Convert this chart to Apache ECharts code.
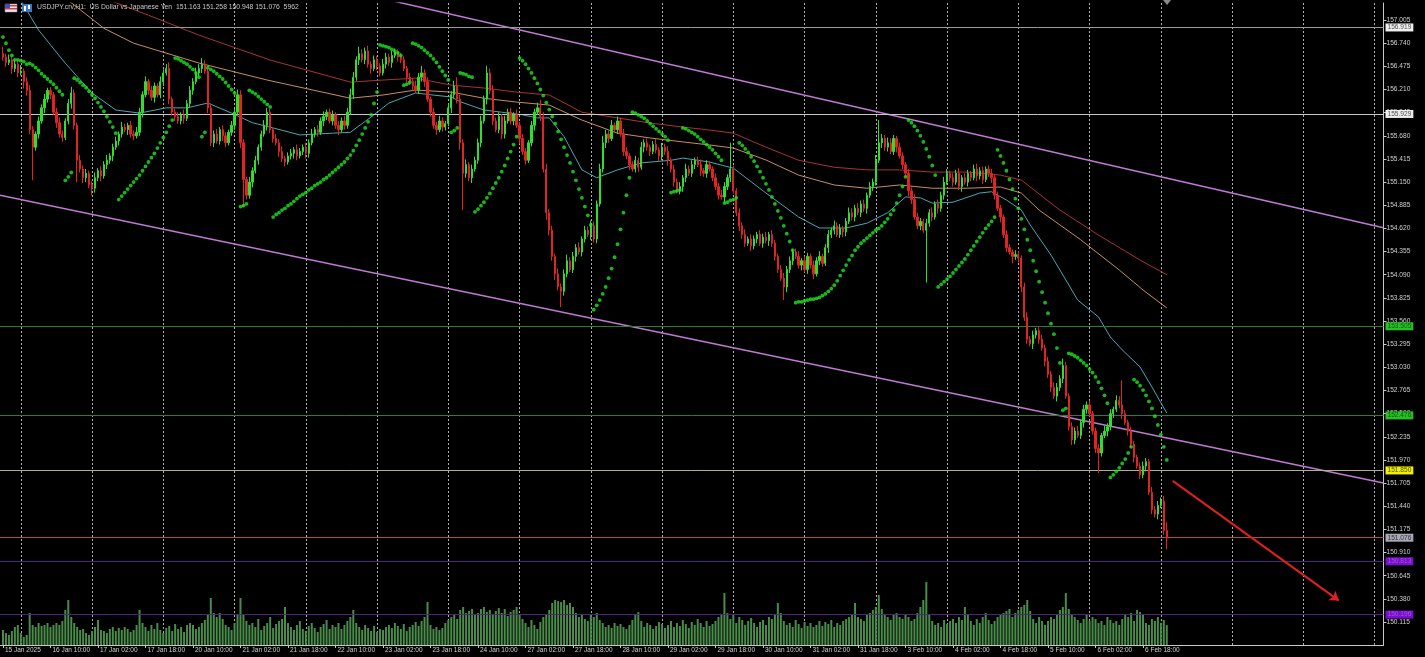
<!DOCTYPE html>
<html><head><meta charset="utf-8">
<script src="https://cdn.jsdelivr.net/npm/echarts@6/dist/echarts.min.js"></script>
<style>html,body{margin:0;padding:0;background:#000;}#c{width:1425px;height:657px;}</style>
</head><body><div id="c"></div>
<script>
// ---------------- DATA ----------------
const header = 'USDJPY.crv,H1:  US Dollar vs Japanese Yen  151.163 151.258 150.948 151.076  5962';
const timeLabels = ['15 Jan 2025','16 Jan 10:00','17 Jan 02:00','17 Jan 18:00','20 Jan 10:00','21 Jan 02:00','21 Jan 18:00','22 Jan 10:00','23 Jan 02:00','23 Jan 18:00','24 Jan 10:00','27 Jan 02:00','27 Jan 18:00','28 Jan 10:00','29 Jan 02:00','29 Jan 18:00','30 Jan 10:00','31 Jan 02:00','31 Jan 18:00','3 Feb 10:00','4 Feb 02:00','4 Feb 18:00','5 Feb 10:00','6 Feb 02:00','6 Feb 18:00'];
const labelEvery = 16;      // bars between time labels
const gridEvery = 24;       // bars between dashed grid lines
const gridFirst = 6;
const totalSlots = 466;     // bar slots incl. right shift space
const firstOpen = 156.62;
const closes = [156.58,156.52,156.55,156.45,156.50,156.40,156.42,156.30,156.20,155.75,155.55,155.70,155.85,156.00,156.10,156.20,156.15,155.95,155.83,155.70,155.66,155.85,156.05,156.17,155.80,155.40,155.30,155.20,155.25,155.12,155.08,155.20,155.28,155.22,155.35,155.40,155.45,155.55,155.62,155.70,155.78,155.75,155.80,155.70,155.68,155.72,155.95,156.15,156.30,156.20,156.12,156.25,156.15,156.30,156.40,156.45,156.10,155.95,155.90,155.85,155.92,155.88,156.05,156.20,156.30,156.40,156.45,156.50,156.42,156.00,155.60,155.70,155.62,155.75,155.68,155.60,155.72,155.80,155.95,156.15,155.60,155.18,155.00,155.15,155.28,155.40,155.55,155.70,155.80,155.95,155.75,155.65,155.60,155.50,155.42,155.38,155.45,155.48,155.52,155.45,155.50,155.55,155.48,155.60,155.70,155.75,155.72,155.85,155.90,155.95,155.85,155.92,155.80,155.75,155.85,155.80,155.95,156.15,156.35,156.55,156.62,156.55,156.65,156.50,156.45,156.55,156.48,156.40,156.50,156.58,156.52,156.60,156.64,156.58,156.55,156.45,156.35,156.30,156.25,156.20,156.35,156.40,156.30,156.10,155.95,155.80,155.75,155.85,155.78,155.82,156.00,156.15,156.25,156.10,155.60,155.25,155.35,155.20,155.30,155.40,155.60,155.85,156.10,156.40,156.20,155.85,155.75,155.90,155.70,155.85,155.95,155.85,155.92,155.80,155.65,155.50,155.40,155.60,155.80,155.95,156.00,155.90,155.30,154.80,154.60,154.30,154.10,153.95,153.90,154.10,154.25,154.15,154.30,154.40,154.35,154.50,154.60,154.55,154.65,154.50,154.90,155.30,155.60,155.70,155.65,155.80,155.75,155.85,155.70,155.50,155.45,155.35,155.30,155.40,155.32,155.55,155.60,155.55,155.50,155.58,155.52,155.45,155.55,155.50,155.40,155.30,155.15,155.05,155.10,155.20,155.30,155.25,155.35,155.40,155.35,155.28,155.25,155.35,155.30,155.20,155.10,155.00,154.98,155.10,155.20,155.30,155.05,154.80,154.65,154.55,154.45,154.50,154.42,154.50,154.55,154.45,154.52,154.48,154.55,154.45,154.30,154.15,154.05,153.95,154.15,154.25,154.35,154.30,154.20,154.25,154.15,154.30,154.20,154.10,154.25,154.30,154.22,154.40,154.55,154.60,154.65,154.55,154.62,154.58,154.70,154.80,154.75,154.85,154.80,154.90,154.85,155.00,155.10,155.15,155.40,155.60,155.65,155.55,155.60,155.50,155.65,155.55,155.45,155.35,155.25,155.05,154.95,154.75,154.65,154.70,154.60,154.68,154.80,154.75,154.90,154.85,155.00,155.15,155.25,155.20,155.15,155.25,155.10,155.20,155.15,155.25,155.20,155.30,155.22,155.28,155.18,155.30,155.25,155.20,155.00,154.85,154.75,154.55,154.40,154.35,154.30,154.32,154.28,153.95,153.60,153.35,153.30,153.40,153.45,153.35,153.25,153.10,152.95,152.80,152.70,152.80,152.90,153.05,152.70,152.35,152.20,152.30,152.25,152.40,152.55,152.60,152.50,152.30,152.10,152.05,152.25,152.30,152.35,152.50,152.55,152.65,152.60,152.50,152.40,152.30,152.15,152.00,151.90,151.80,151.90,151.95,151.60,151.40,151.35,151.45,151.50,151.163,151.076];
// wick lengths in pips (0.01) above max(open,close) / below min(open,close)
const wickUp = [8,4,6,3,5,4,7,3,5,6,4,3,5,4,6,3, 4,3,5,6,4,3,5,7,4,3,6,4,5,3,4,6, 3,5,4,6,3,4,5,3,6,4,3,5,4,6,5,4, 6,3,5,4,3,6,4,5,7,3,4,5,3,6,4,5, 4,6,5,7,4,3,5,4,6,3,5,4,3,5,4,6, 5,4,3,6,4,5,3,4,6,5,4,3,5,4,6,3, 4,5,3,6,4,3,5,4,6,3,5,4,6,3,4,5, 3,5,4,6,5,7,6,4,8,5,4,6,3,5,4,3, 6,5,4,5,4,3,5,4,3,5,4,6,5,8,4,5, 3,5,4,6,4,3,5,4,6,10,5,4,6,3,5,4, 5,6,4,8,5,6,4,5,3,6,4,5,3,6,4,5, 4,3,5,4,6,9,5,6,4,5,3,6,4,5,7,4, 5,4,6,3,5,4,6,5,4,6,8,5,4,6,3,5, 4,6,5,3,4,5,3,6,4,5,3,4,6,3,5,4, 6,3,5,4,5,3,6,4,5,3,4,6,3,5,4,3, 5,4,6,5,4,30,4,3,5,4,6,3,5,4,3,5, 4,6,3,5,4,3,5,6,4,5,3,4,6,3,5,4, 3,5,4,6,3,4,5,3,6,4,5,3,4,6,5,4, 6,4,5,3,5,4,6,26,5,4,6,5,4,3,5,4, 3,5,4,6,5,4,3,5,4,6,3,5,4,6,5,3, 5,4,6,3,5,4,3,5,6,4,5,3,4,5,3,4, 4,3,5,4,3,5,4,3,5,6,4,5,3,4,5,4, 5,4,6,5,4,8,4,3,5,4,6,3,5,4,5,3, 4,5,3,6,4,5,3,6,5,28,4,3,5,4,3,4, 5,4,3,6,4,5,4,6,9.5];
const wickDn = [4,5,3,6,4,5,3,8,6,5,38,4,5,3,6,4, 5,3,6,4,5,3,4,6,5,25,4,6,5,4,8,5, 4,6,3,5,4,6,3,5,4,3,6,4,5,3,4,6, 3,5,4,6,3,4,5,3,6,4,5,3,4,6,3,5, 5,3,4,5,3,6,4,5,3,4,6,5,3,4,5,3, 6,31,5,4,6,3,5,4,3,6,4,5,3,6,4,5, 3,4,6,5,3,4,6,5,3,4,5,3,6,4,3,5, 4,6,3,5,4,3,5,4,6,3,5,4,6,3,5,4, 3,5,4,6,3,5,4,3,6,4,5,3,4,5,6,3, 5,4,6,3,5,4,3,6,4,5,8,42,5,4,6,3, 4,5,3,6,4,5,3,4,6,5,3,4,5,3,6,4, 5,3,4,6,3,5,4,8,6,5,7,4,18,5,4,3, 4,6,3,5,4,3,6,4,5,3,4,6,5,3,4,5, 3,5,4,6,3,4,5,3,6,4,5,3,4,6,5,4, 6,4,5,3,4,6,5,3,4,5,3,6,4,5,3,4, 4,5,3,6,4,5,3,4,6,5,4,3,6,4,5,3, 5,3,6,4,5,4,3,15,6,4,5,3,4,6,3,5, 4,6,3,5,4,3,6,4,5,3,4,6,5,3,4,5, 3,5,4,6,3,5,4,3,6,4,5,3,4,6,3,5, 4,6,5,3,4,5,3,60,4,5,3,6,4,5,3,4, 5,3,4,6,3,5,4,3,6,4,5,3,4,6,5,3, 6,4,5,3,8,4,5,6,4,5,3,6,4,5,3,6, 4,5,3,6,4,5,3,4,6,5,3,4,6,5,3,4, 5,23,4,3,6,4,5,3,4,6,3,5,4,6,3,5, 4,6,3,5,4,6,3,5,12.8];
const sar = [156.81,156.74,156.66,156.60,156.55,156.55,156.54,156.53,156.50, 156.51,156.49,156.46,156.43,156.39,156.36,156.33,156.30,156.27,156.23,156.19,156.15, 155.17,155.21,155.26, 156.34,156.32,156.29,156.26,156.23,156.19,156.15,156.11,156.06,156.01,155.96,155.90,155.84,155.78,155.71, 154.95,154.99,155.03,155.07,155.11,155.15,155.19,155.23,155.28,155.33,155.38,155.43,155.48,155.54,155.60,155.66,155.72,155.79,155.86, 156.57,156.56,156.54,156.52,156.50,156.47,156.44,156.40,156.35, 155.67,155.72, 156.46,156.44,156.42,156.39,156.36,156.33,156.29,156.25,156.21,156.17,156.12, 154.87,154.88,154.90, 156.20,156.18,156.16,156.13,156.10,156.07,156.04,156.01, 154.75,154.78,154.80,154.83,154.85,154.88,154.90,154.93,154.96,154.99,155.01,155.03,155.06,155.08,155.11,155.13,155.15,155.18,155.20,155.23,155.26,155.29,155.32,155.35,155.38,155.42,155.46,155.51,155.57,155.63,155.70,155.77,155.84,155.92,156.05,156.18, 156.72,156.71,156.70,156.69,156.67,156.65,156.63,156.60, 156.26,156.27,156.29, 156.74,156.73,156.71,156.69,156.66,156.63,156.60,156.56,156.52,156.47,156.42,156.37,156.32, 155.72,155.74,155.77, 156.40,156.39,156.38,156.36,156.35, 154.81,154.84,154.88,154.92,154.97,155.02,155.08,155.14,155.20,155.27,155.34,155.42,155.50,155.58,155.67, 156.57,156.54,156.50,156.45,156.40,156.34,156.28,156.21,156.14,156.06,155.98,155.90,155.82,155.73,155.64,155.55,155.46,155.37,155.27,155.17,155.07,154.97,154.87,154.77,154.66, 153.69,153.74,153.80,153.87,153.95,154.05,154.16,154.29,154.44,154.61,154.80,155.00,155.20, 155.95,155.94,155.92,155.90,155.88,155.85,155.82,155.79,155.76,155.73,155.70,155.67,155.63, 155.03,155.04,155.05,155.06, 155.77,155.76,155.74,155.72,155.70,155.67,155.64,155.61,155.58,155.55,155.52,155.48,155.44,155.40, 154.91,154.92,154.94,154.95,154.97, 155.60,155.57,155.53,155.49,155.44,155.39,155.33,155.27,155.20,155.13,155.06,154.98,154.90,154.82,154.74,154.65,154.56,154.47,154.37, 153.77,153.78,153.78,153.79,153.80,153.81,153.81,153.82,153.83,153.85,153.87,153.90,153.93,153.97,154.02,154.08,154.14,154.20,154.26,154.31,154.37,154.41,154.45,154.48,154.51,154.54,154.57,154.60,154.62,154.65,154.69,154.73,154.78,154.83,154.91,155.00,155.10,155.21, 155.86,155.83,155.79,155.74,155.68,155.61,155.53,155.44,155.34,155.23, 153.95,153.98,154.01,154.04,154.07,154.11,154.15,154.19,154.23,154.27,154.32,154.37,154.42,154.47,154.52,154.57,154.62,154.66,154.70,154.75, 155.52,155.45,155.37,155.28,155.18,155.07,154.96,154.85,154.73,154.61,154.49,154.37,154.25,154.13,154.01,153.89,153.77,153.65,153.53,153.41,153.25,153.08, 152.54,152.56, 153.19,153.18,153.16,153.14,153.11,153.08,153.05,153.01,152.97,152.92,152.86,152.79,152.71,152.62, 151.77,151.80,151.84,151.88,151.93,151.98,152.05,152.12, 152.89,152.86,152.82,152.77,152.71,152.64,152.56,152.47,152.37,152.26,152.12,151.97];
const volumes = [4500,3600,3000,4200,5400,6000,3600,2400,3000,9600,6000,5400,6600,5700,6000,6600, 5400,6000,6600,6000,7200,10500,13500,8400,6600,5400,4500,4800,3600,3000,4200,5400, 7500,4500,4200,3600,4800,5400,4200,5100,4500,5400,4800,3900,4500,6000,10500,6600, 5400,4200,6000,4800,6600,4500,3600,5100,5700,4200,6300,4800,5400,3900,6000,6600, 6000,4800,5400,6600,7500,9000,14100,9600,8400,9600,7800,6000,5400,4500,6600,9000, 14100,9000,7200,6000,6600,5400,7800,4500,5700,6600,8400,5100,6300,7200,7800,11400, 6600,5400,4500,6000,7200,4800,4200,5700,6600,5100,3900,5400,6300,7500,4800,6000, 5400,6600,4800,6000,7200,8400,10500,6600,5400,4500,6000,5100,4200,5700,3900,4800, 4500,5400,6000,5100,6600,5700,4800,6300,4200,5400,6000,6900,5700,7200,8400,12900, 6000,4800,5400,4500,5100,6600,7500,8400,9000,7800,10500,11400,9600,10200,10800,9000, 9600,10800,11400,9900,10500,9000,10200,11100,9600,10800,8700,9900,10500,11400,9000,7800, 6600,5400,7500,6000,4800,6900,8400,9000,10500,12600,13500,13200,12900,13500,12000,12600, 11400,9600,8400,9000,7800,7200,9000,8400,9600,7500,6600,5400,6000,5100,6600,5700, 6300,5400,4800,6000,7500,9000,9900,7200,5400,6600,6000,4800,5700,6900,6300,5100, 6000,7200,5400,6600,5700,7500,6300,5100,6900,6000,7800,6600,5400,7200,5700,6300, 7200,8400,9000,15600,9600,7800,9000,6600,8400,7500,6000,7200,8100,6600,5400,6900, 7500,6000,8400,7800,9000,12600,9600,7200,6000,6600,5400,7500,6300,5100,6900,5700, 6600,5400,6000,7200,5700,6900,6300,7500,5400,6600,6000,7200,7800,8400,9000,12600, 8400,7800,7200,9000,9600,10500,11400,15000,10800,9000,8400,7500,9000,9600,8400,7800, 9000,8400,7200,7800,9600,11400,13500,18900,9000,7200,6000,6600,5400,7500,6300,7200, 7800,6600,8400,7500,11400,9000,7200,6000,7800,6600,8400,9600,7500,6300,7200,8400, 9000,9600,10200,10800,8400,9600,10500,11400,12000,13500,10200,7800,6600,8400,7200,6000, 7200,8400,7800,9000,10500,11400,15600,10800,9000,8400,7500,6600,7800,9000,7200,8400, 7800,6600,7200,6000,8400,7500,6600,7200,6000,7800,9000,8400,9600,7200,10500,9900, 9000,6600,6000,7800,7200,8400,6600,7500,5962];
const maFast = [[5,157.29],[12,156.89],[21,156.51],[30,156.17],[38,155.975],[46,155.94],[55,156.0],[62,156.0],[69,156.055],[77,155.94],[84,155.83],[91,155.77],[100,155.69],[111,155.71],[117,155.72],[124,155.895],[130,156.055],[139,156.17],[144,156.15],[151,156.124],[154,156.07],[162,155.975],[168,155.95],[175,155.92],[180,155.885],[184,155.885],[189,155.67],[195,155.29],[200,155.20],[207,155.29],[215,155.37],[225,155.40],[229,155.425],[238,155.38],[246,155.31],[257,155.025],[268,154.75],[275,154.625],[284,154.625],[291,154.68],[298,154.80],[304,154.98],[309,154.97],[313,154.91],[320,154.92],[329,155.025],[333,155.04],[338,154.945],[343,154.83],[346,154.66],[353,154.315],[358,154.03],[362,153.80],[369,153.606],[373,153.377],[377,153.23],[383,153.034],[387,152.805],[392,152.507]];
const maMid = [[22,157.23],[34,156.91],[44,156.74],[66,156.513],[89,156.318],[117,156.11],[128,156.147],[139,156.204],[151,156.18],[162,156.11],[173,156.066],[184,156.032],[195,155.86],[207,155.71],[218,155.655],[229,155.61],[238,155.575],[246,155.54],[257,155.403],[268,155.23],[280,155.117],[291,155.08],[302,155.117],[313,155.08],[325,155.08],[336,155.094],[343,155.025],[349,154.83],[363,154.49],[376,154.144],[384,153.915],[392,153.71]];
const maSlow = [[36,157.23],[49,157.06],[66,156.833],[90,156.547],[117,156.295],[128,156.318],[139,156.34],[151,156.26],[162,156.227],[173,156.18],[184,156.147],[195,155.95],[207,155.885],[218,155.826],[229,155.78],[238,155.746],[246,155.71],[257,155.55],[268,155.40],[280,155.32],[291,155.29],[302,155.29],[313,155.265],[325,155.265],[336,155.23],[343,155.174],[356,154.83],[369,154.544],[383,154.258],[392,154.09]];
const channelUpper = [[130,157.234],[465,154.628]];
const channelLower = [[-1,155.00],[465,151.705]];
const arrowPts = [[394,151.73],[450,150.36]];
const priceTicks = [157.005,156.740,156.475,156.210,155.945,155.680,155.415,155.150,154.885,154.620,154.355,154.090,153.825,153.560,153.295,153.030,152.765,152.500,152.235,151.970,151.705,151.440,151.175,150.910,150.645,150.380,150.115];
const levelValues = [156.919,155.929,153.505,152.476,151.850,151.076,150.813,150.196];

// ---------------- STYLES ----------------
const levelStyles = [
  {line:'#9a9a9a', bg:'#eeeeee', fg:'#505050'},
  {line:'#c8c8c8', bg:'#eeeeee', fg:'#505050'},
  {line:'#2f7d2f', bg:'#26c026', fg:'#0d5a0d'},
  {line:'#2f7d2f', bg:'#26c026', fg:'#0d5a0d'},
  {line:'#b4b08a', bg:'#f2f000', fg:'#4a4a00'},
  {line:'#b84848', bg:'#a9a9b4', fg:'#303040'},
  {line:'#4e2480', bg:'#7a10c8', fg:'#a050f0'},
  {line:'#4e2480', bg:'#7a10c8', fg:'#a050f0'}
];
const OFF = 1;
const N = totalSlots + OFF;
const FONT = 'Liberation Sans';

const cats = [];
const labelMap = {};
for (let i = 0; i < N; i++) cats.push('s' + i);
timeLabels.forEach((t, k) => { labelMap[OFF + k * labelEvery] = t; });

const nb = closes.length;
const candle = [], vol = [], sarPts = [];
for (let i = 0; i < nb; i++) {
  const o = i ? closes[i - 1] : firstOpen;
  const c = closes[i];
  const h = Math.max(o, c) + wickUp[i] / 100;
  const l = Math.min(o, c) - wickDn[i] / 100;
  candle.push([i + OFF, o, c, l, h]);
  vol.push([i + OFF, volumes[i]]);
  if (sar[i] != null) sarPts.push([i + OFF, sar[i]]);
}
const shift = arr => arr.map(p => [p[0] + OFF, p[1]]);

const chart = echarts.init(document.getElementById('c'), null, {renderer: 'canvas'});
const option = {
  backgroundColor: '#000000',
  animation: false,
  grid: {left: 0, right: 41.5, top: 3, bottom: 12, containLabel: false},
  xAxis: {
    type: 'category', data: cats, boundaryGap: false,
    axisLine: {show: true, lineStyle: {color: '#c8c8c8', width: 1}},
    axisTick: {show: true, length: 3, interval: (idx) => labelMap[idx] !== undefined, lineStyle: {color: '#c8c8c8'}},
    axisLabel: {show: true, interval: (idx) => labelMap[idx] !== undefined, formatter: (v, idx) => labelMap[idx] || '',
      color: '#d0d0d0', fontSize: 6.5, fontFamily: FONT, align: 'left', margin: 2, padding: [0, 0, 0, 2]},
    splitLine: {show: true, interval: (idx) => (idx - OFF - gridFirst) >= 0 && (idx - OFF - gridFirst) % gridEvery === 0,
      lineStyle: {color: '#b0b0b0', type: [2, 2], width: 1}}
  },
  yAxis: [{
    type: 'value', position: 'right', min: 149.852, max: 157.2,
    axisLine: {show: true, lineStyle: {color: '#c8c8c8', width: 1}},
    axisTick: {show: true, length: 3, customValues: priceTicks, lineStyle: {color: '#c8c8c8'}},
    axisLabel: {show: true, customValues: priceTicks, formatter: v => v.toFixed(3), color: '#d0d0d0', fontSize: 6.6, fontFamily: FONT, margin: 3},
    splitLine: {show: false}
  }, {
    type: 'value', min: 0, max: 192600, show: false, splitLine: {show: false}
  }],
  series: [
    {type: 'bar', yAxisIndex: 1, data: vol, barWidth: 2, itemStyle: {color: '#4a8c4a'}, z: 1, silent: true},
    {type: 'line', data: [[0, 150]], showSymbol: false, lineStyle: {opacity: 0}, z: 2, silent: true,
      markLine: {silent: true, symbol: ['none', 'none'], animation: false,
        data: levelValues.map((v, k) => ({yAxis: v,
          lineStyle: {color: levelStyles[k].line, width: 1, type: 'solid'},
          label: {show: true, position: 'end', distance: 2, formatter: () => v.toFixed(3),
            backgroundColor: levelStyles[k].bg, color: levelStyles[k].fg, fontSize: 6.6, fontFamily: FONT,
            padding: [1, 2, 0, 2]}}))}},
    {type: 'line', data: shift(channelUpper), showSymbol: false, lineStyle: {color: '#bf7bd2', width: 1.5}, z: 3, silent: true},
    {type: 'line', data: shift(channelLower), showSymbol: false, lineStyle: {color: '#bf7bd2', width: 1.5}, z: 3, silent: true},
    {type: 'line', data: shift(maSlow), showSymbol: false, lineStyle: {color: '#a83434', width: 1}, z: 4, silent: true},
    {type: 'line', data: shift(maMid), showSymbol: false, lineStyle: {color: '#c98d5c', width: 1}, z: 4, silent: true},
    {type: 'line', data: shift(maFast), showSymbol: false, lineStyle: {color: '#4aa6b4', width: 1}, z: 4, silent: true},
    {type: 'candlestick', data: candle, encode: {x: 0, y: [1, 2, 3, 4]}, barWidth: 1.8, z: 5, silent: true,
      itemStyle: {color: '#2ee02e', color0: '#e02424', borderColor: '#2ee02e', borderColor0: '#e02424', borderWidth: 1}},
    {type: 'scatter', data: sarPts, symbol: 'circle', symbolSize: 3.8, itemStyle: {color: '#1fe61f'}, z: 6, silent: true},
    {type: 'line', data: [[0, 150]], showSymbol: false, lineStyle: {opacity: 0}, z: 7, silent: true,
      markLine: {silent: true, symbol: ['none', 'arrow'], symbolSize: 9, animation: false,
        lineStyle: {color: '#e02020', width: 2, type: 'solid'}, label: {show: false},
        data: [[{coord: [arrowPts[0][0] + OFF, arrowPts[0][1]]}, {coord: [arrowPts[1][0] + OFF, arrowPts[1][1]]}]]}}
  ],
  graphic: [
    {type: 'rect', shape: {x: 5, y: 4, width: 12, height: 8}, style: {fill: '#e8e8f0', stroke: '#9090a0', lineWidth: 0.5}, z: 100},
    {type: 'rect', shape: {x: 5, y: 5, width: 12, height: 1.5}, style: {fill: '#d04040'}, z: 101},
    {type: 'rect', shape: {x: 5, y: 8, width: 12, height: 1.5}, style: {fill: '#d04040'}, z: 101},
    {type: 'rect', shape: {x: 5, y: 4, width: 5, height: 4}, style: {fill: '#4050b0'}, z: 102},
    {type: 'rect', shape: {x: 22, y: 4, width: 10, height: 8}, style: {fill: '#3a78c8'}, z: 100},
    {type: 'rect', shape: {x: 24, y: 6, width: 2, height: 5}, style: {fill: '#ffffff'}, z: 101},
    {type: 'rect', shape: {x: 28, y: 5, width: 2, height: 4}, style: {fill: '#ffffff'}, z: 101},
    {type: 'text', x: 37, y: 4, style: {text: header, fill: '#c8c8c8', fontSize: 6.8, fontFamily: FONT}, z: 100},
    {type: 'polygon', shape: {points: [[1163, 0], [1171, 0], [1167, 5]]}, style: {fill: '#8a8a8a'}, z: 100}
  ]
};
chart.setOption(option);
</script>
</body></html>
